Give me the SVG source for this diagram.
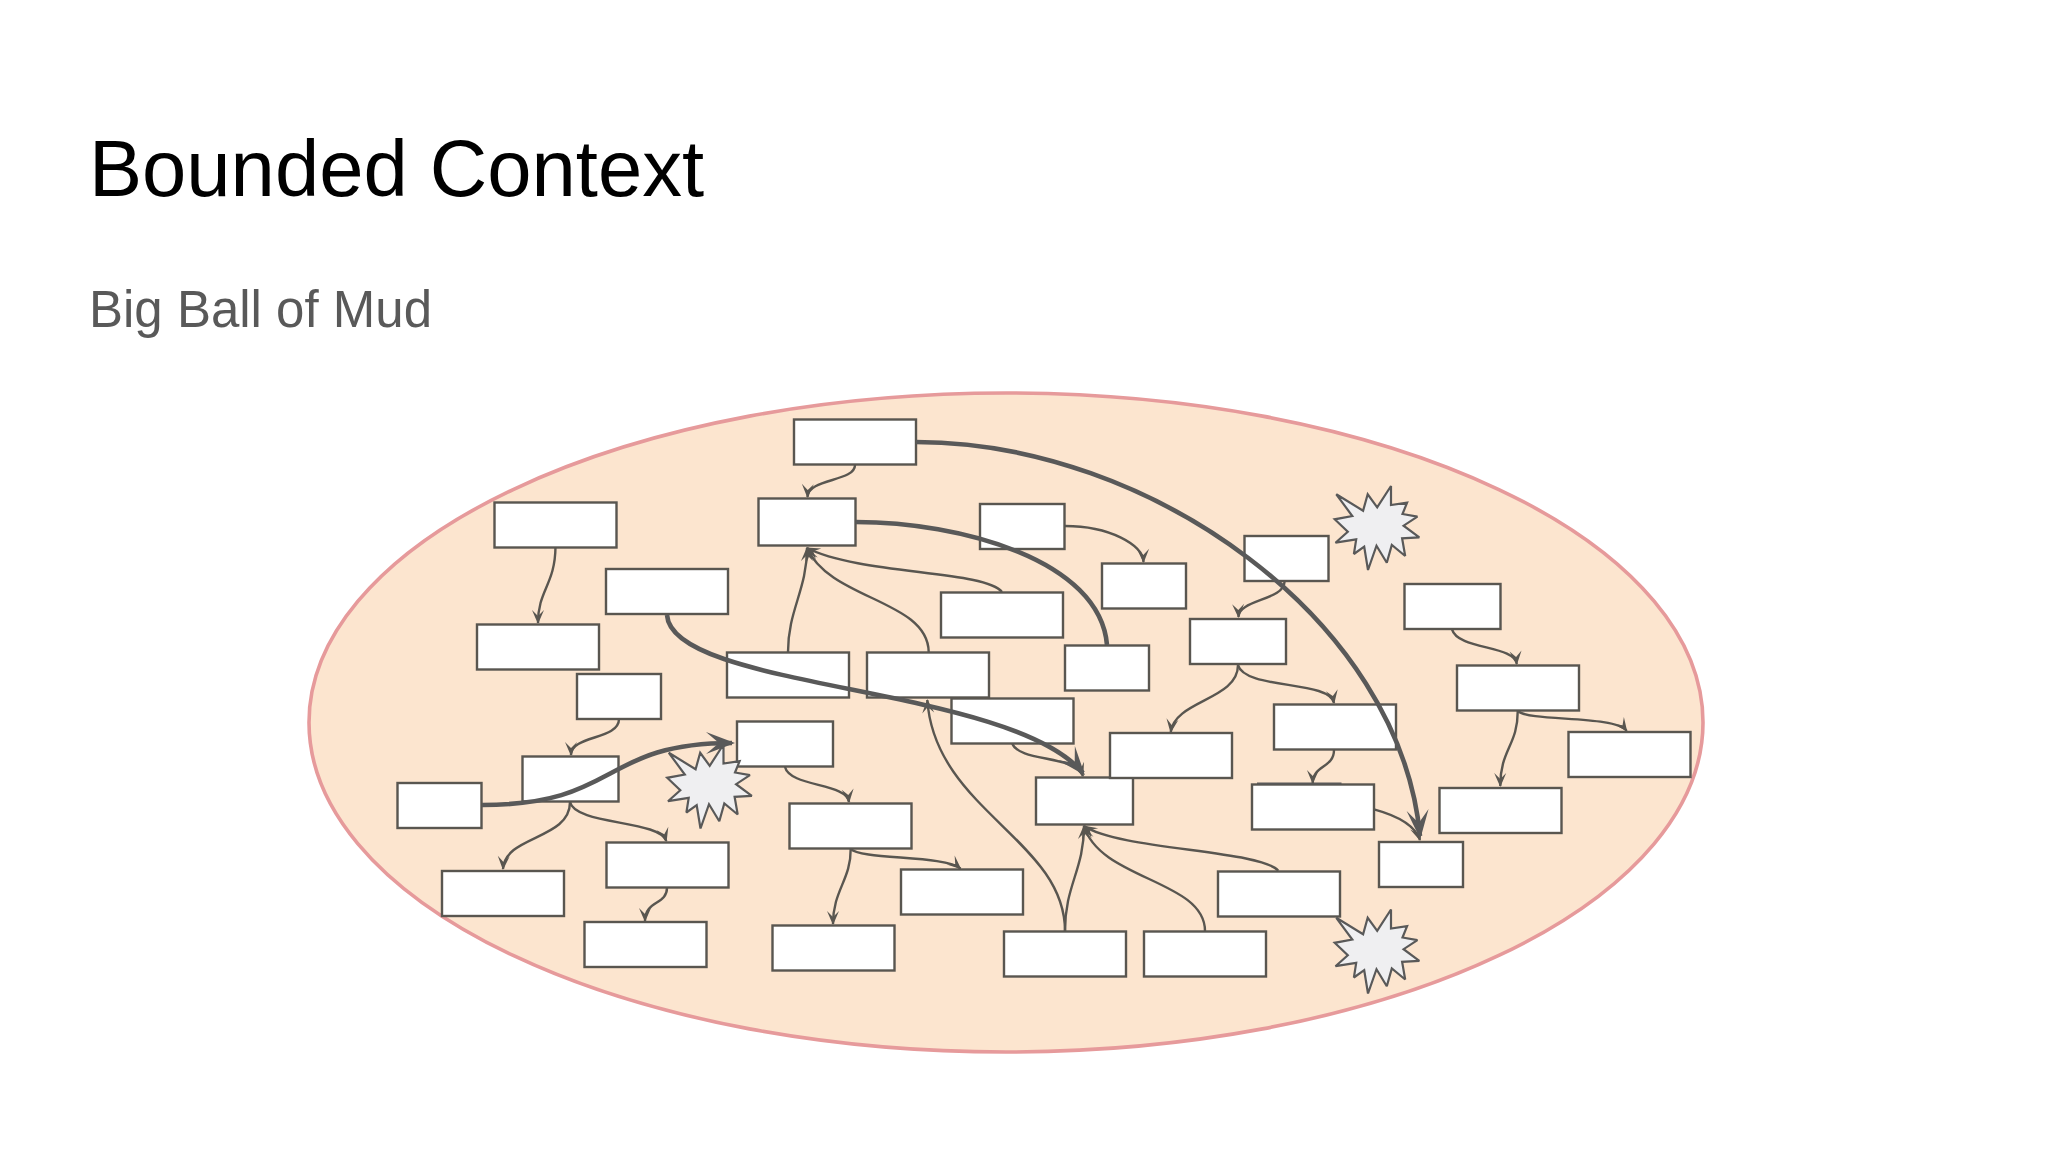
<svg xmlns="http://www.w3.org/2000/svg" width="2048" height="1152" viewBox="0 0 2048 1152">
<style>
text{font-family:"Liberation Sans",Arial,sans-serif}
.title{font-size:79.6px;fill:#000}
.sub{font-size:51px;fill:#595959}
.b{fill:#fff;stroke:#595650;stroke-width:2.4}
.star{fill:#efeff1;stroke:#595959;stroke-width:2.2;stroke-linejoin:miter;stroke-miterlimit:2.5}
.t{fill:none;stroke:#595650;stroke-width:2.4;marker-end:url(#thin)}
.k{fill:none;stroke:#595959;stroke-width:4.6;marker-end:url(#thick)}
.kn{fill:none;stroke:#595959;stroke-width:4.6}
</style>
<defs>
<marker id="thin" markerUnits="userSpaceOnUse" viewBox="-16 -8 20 16" markerWidth="20" markerHeight="16" refX="0" refY="0" orient="auto"><path d="M-13 -6L1 0L-13 6L-7 0z" fill="#595650"/></marker>
<marker id="thick" markerUnits="userSpaceOnUse" viewBox="-30 -14 36 28" markerWidth="36" markerHeight="28" refX="0" refY="0" orient="auto"><path d="M-26 -11L3 0L-26 11L-13 0z" fill="#595959"/></marker>
<polygon id="burst" points="1391,486 1391,505 1407.1,502.7 1402.5,514 1417.4,516.7 1403.6,525.7 1419.3,537.3 1402.1,538.3 1405.2,556 1391.8,545 1386.8,562.7 1376.5,545.7 1368,570 1364.2,546.7 1353.9,554 1356.2,539.3 1335.5,542.7 1347.8,531.7 1334.7,519.3 1352.3,516 1336.3,494.3 1363.1,510.7 1367.7,494.3 1377.2,507.3"/>
</defs>
<rect width="2048" height="1152" fill="#fff"/>
<text class="title" x="89" y="196">Bounded Context</text>
<text class="sub" x="89" y="327">Big Ball of Mud</text>
<ellipse id="context" cx="1006" cy="722.5" rx="697" ry="329.5" fill="#fce5cf" stroke="#e69a9b" stroke-width="3.6"/>
<g id="nodes">
<g id="n1"><rect class="b" x="794" y="419.5" width="122" height="45"/></g>
<g id="n2"><rect class="b" x="758.5" y="498.5" width="97" height="47"/></g>
<g id="n3"><rect class="b" x="494.5" y="502.5" width="122" height="45"/></g>
<g id="n4"><rect class="b" x="606" y="569" width="122" height="45"/></g>
<g id="n5"><rect class="b" x="477" y="624.5" width="122" height="45"/></g>
<g id="n6"><rect class="b" x="577" y="674" width="84" height="45"/></g>
<g id="n7"><rect class="b" x="727" y="652.5" width="122" height="45"/></g>
<g id="n8"><rect class="b" x="867" y="652.5" width="122" height="45"/></g>
<g id="n9"><rect class="b" x="980" y="504" width="84.500" height="45"/></g>
<g id="n10"><rect class="b" x="941" y="592.500" width="122" height="45"/></g>
<g id="n11"><rect class="b" x="1102" y="563.500" width="84" height="45"/></g>
<g id="n12"><rect class="b" x="1065" y="645.500" width="84" height="45"/></g>
<g id="n13"><rect class="b" x="1244.500" y="536" width="84" height="45"/></g>
<g id="n14"><rect class="b" x="1190" y="619" width="96" height="45"/></g>
<g id="n15"><rect class="b" x="1404.500" y="584" width="96" height="45"/></g>
<g id="n16"><rect class="b" x="1457" y="665.500" width="122" height="45"/></g>
<g id="n17"><rect class="b" x="1274" y="704.500" width="122" height="45"/></g>
<g id="n18"><rect class="b" x="951.500" y="698.500" width="122" height="45"/></g>
<g id="n19"><rect class="b" x="1568.500" y="732" width="122" height="45"/></g>
<g id="n20"><rect class="b" x="1439.500" y="788" width="122" height="45"/></g>
<g id="n21"><rect class="b" x="1252" y="784.500" width="122" height="45"/><path d="M1257 783.500H1341.500" fill="none" stroke="#595959" stroke-width="2.200"/></g>
<g id="n22"><rect class="b" x="1379" y="842" width="84" height="45"/></g>
<g id="n23"><rect class="b" x="1036" y="777.500" width="97" height="47"/></g>
<g id="n24"><rect class="b" x="1110" y="733" width="122" height="45"/></g>
<g id="n25"><rect class="b" x="1218" y="871.500" width="122" height="45"/></g>
<g id="n26"><rect class="b" x="1004" y="931.500" width="122" height="45"/></g>
<g id="n27"><rect class="b" x="1144" y="931.500" width="122" height="45"/></g>
<g id="n28"><rect class="b" x="737" y="721.500" width="96" height="45"/></g>
<g id="n29"><rect class="b" x="522.500" y="756.500" width="96" height="45"/></g>
<g id="n30"><rect class="b" x="397.500" y="783" width="84" height="45"/></g>
<g id="n31"><rect class="b" x="442" y="871" width="122" height="45"/></g>
<g id="n32"><rect class="b" x="606.500" y="842.500" width="122" height="45"/></g>
<g id="n33"><rect class="b" x="584.500" y="922" width="122" height="45"/></g>
<g id="n34"><rect class="b" x="789.500" y="803.500" width="122" height="45"/></g>
<g id="n35"><rect class="b" x="901" y="869.500" width="122" height="45"/></g>
<g id="n36"><rect class="b" x="772.500" y="925.500" width="122" height="45"/></g>
<g id="burst1"><use href="#burst" class="star"/></g>
<g id="burst2"><use href="#burst" class="star" transform="translate(-667.500 258.500)"/></g>
<g id="burst3"><use href="#burst" class="star" transform="translate(0 423.500)"/></g>
</g>
<g id="connectors">
<path class="t" d="M855 465C855 482 808 478 807.500 497"/>
<path class="t" d="M555.500 547C555 585 538 590 538 623"/>
<path class="t" d="M788 652C788 610 807 590 807 548"/>
<path class="t" d="M928.700 652C928 600 830 600 807 548"/>
<path class="t" d="M1002 592C985 570 860 575 807 548"/>
<path class="t" d="M1065 526C1110 526 1143 545 1143.500 562"/>
<path class="t" d="M1284.500 582C1284 600 1238 600 1238.500 617"/>
<path class="t" d="M1238 665C1238 700 1175 700 1170.700 732"/>
<path class="t" d="M1238 665C1245 690 1330 680 1334 703"/>
<path class="t" d="M1334 750C1334 768 1313 765 1312.700 783"/>
<path class="t" d="M1374 809.300C1395 815 1415 825 1420 840"/>
<path class="t" d="M1452 629.300C1458 650 1515 645 1516.700 664"/>
<path class="t" d="M1517.700 711C1518 745 1500 750 1500.300 786"/>
<path class="t" d="M1517.700 711C1530 722 1615 715 1626.700 731"/>
<path class="t" d="M619 719C619 740 571 735 571 755"/>
<path class="t" d="M570 802C570 840 505 835 503 869"/>
<path class="t" d="M570 802C575 825 660 820 666.300 841"/>
<path class="t" d="M667 887.700C667 905 645 900 645 921"/>
<path class="t" d="M785 767C790 787 847 783 849 802"/>
<path class="t" d="M850.700 848.700C851 880 833 890 833 924"/>
<path class="t" d="M850.700 848.700C860 860 945 855 960.500 868.500"/>
<path class="t" d="M1012.300 743.700C1020 762 1075 755 1083 776"/>
<path class="t" d="M1065 931C1065 885 1084 870 1084 826"/>
<path class="t" d="M1065 931C1065 840 935 810 927.300 700"/>
<path class="t" d="M1205 931C1205 880 1100 880 1084 826"/>
<path class="t" d="M1278.300 870.700C1260 850 1120 850 1084 826"/>
<path class="k" d="M916 442C1150 442 1400 620 1420 836"/>
<path class="kn" d="M855.700 522C960 522 1100 560 1107 645"/>
<path class="k" d="M667 615C672 690 1010 685 1083 773"/>
<path class="k" d="M482 805C620 805 600 743 732 743"/>
</g>
</svg>
